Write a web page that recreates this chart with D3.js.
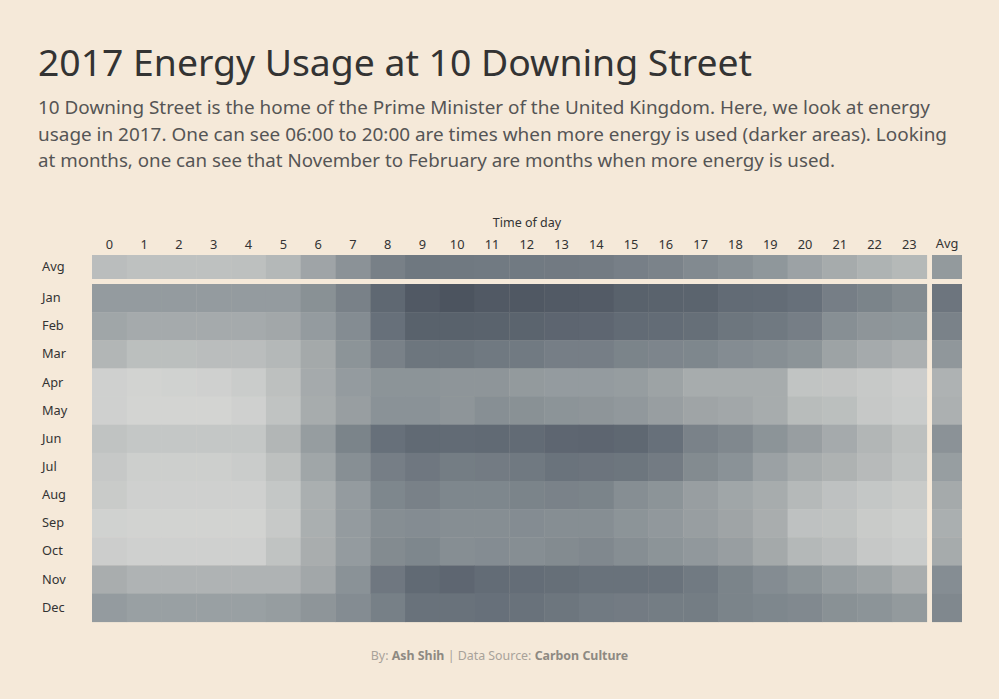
<!DOCTYPE html>
<html>
<head>
<meta charset="utf-8">
<script src="https://cdn.jsdelivr.net/npm/d3@7"></script>
<style>
  body { margin: 0; background: #f5e9d9; }
  svg { display: block; }
  text { font-family: "Noto Sans", sans-serif; }
</style>
</head>
<body>
<script>
var width = 999,
    height = 699;

var hours = d3.range(24).map(String);
var months = ["Jan","Feb","Mar","Apr","May","Jun","Jul","Aug","Sep","Oct","Nov","Dec"];

// relative energy use per month, one value per hour 0..23
var jan = [42,42,42,42,42,42,49,60,79,92,96,92,93,91,90,84,83,82,76,75,72,62,58,53];
var feb = [35,32,32,32,32,34,42,52,72,84,84,83,82,81,80,76,75,73,68,66,62,50,46,45];
var mar = [24,18,18,19,19,23,33,47,60,68,68,66,65,62,62,58,57,56,52,50,47,37,32,28];
var apr = [5,3,4,5,8,17,32,42,47,47,46,46,43,42,42,41,37,31,31,31,14,13,10,7];
var may = [5,2,2,2,5,15,31,40,48,48,46,50,49,47,46,44,40,36,34,31,20,18,11,8];
var jun = [15,12,12,12,12,24,41,58,72,77,76,77,76,80,81,79,72,59,55,47,40,32,24,17];
var jul = [11,6,6,6,8,17,35,50,62,67,63,64,66,70,69,68,64,53,48,38,31,27,21,15];
var aug = [9,5,5,5,5,12,29,42,56,60,56,56,58,59,58,51,47,40,35,31,22,16,12,9];
var sep = [4,3,3,3,3,10,29,42,51,52,51,51,52,51,51,47,44,40,36,30,16,15,9,6];
var oct = [7,5,5,5,5,15,30,42,53,56,51,52,51,53,55,51,47,44,40,33,23,19,11,8];
var nov = [30,26,26,26,26,26,34,48,67,77,80,75,74,73,71,71,70,65,58,52,47,41,37,30];
var dec = [42,39,39,39,39,41,46,52,61,71,71,72,71,68,65,64,63,63,58,56,54,49,47,43];

var usage = [jan,feb,mar,apr,may,jun,jul,aug,sep,oct,nov,dec];

var cells = [];
usage.forEach(function(row, m){
  row.forEach(function(v, h){
    cells.push({month: months[m], hour: hours[h], value: v});
  });
});

var hourAvg = hours.map(function(h, i){
  return {hour: h, value: d3.mean(usage, function(r){ return r[i]; })};
});
var monthAvg = months.map(function(m, i){
  return {month: m, value: d3.mean(usage[i])};
});

var svg = d3.select("body").append("svg")
            .attr("width", width)
            .attr("height", height)

svg.append("rect").attr("width", width).attr("height", height).attr("fill", "#f5e9d9");

var x = d3.scaleBand().domain(hours).range([92, 926.7]);
var y = d3.scaleBand().domain(months).range([284, 621.7]);

var color = d3.scaleLinear()
              .domain([0, 25, 50, 75, 100])
              .range(["#d6d7d5", "#b1b5b5", "#878f94", "#636c76", "#48505b"])
              .clamp(true);

// title + subtitle
svg.append("text")
   .attr("x", 38).attr("y", 76)
   .attr("font-size", 36)
   .attr("fill", "#333")
   .attr("textLength", 714)
   .attr("lengthAdjust", "spacingAndGlyphs")
   .text("2017 Energy Usage at 10 Downing Street");

var sub = [
  "10 Downing Street is the home of the Prime Minister of the United Kingdom. Here, we look at energy",
  "usage in 2017. One can see 06:00 to 20:00 are times when more energy is used (darker areas). Looking",
  "at months, one can see that November to February are months when more energy is used."
];
var subWidth = [892, 909, 797];
svg.selectAll(".sub")
   .data(sub)
   .enter()
   .append("text")
   .attr("class", "sub")
   .attr("x", 38)
   .attr("y", function(d, i){ return 114 + i * 26.5; })
   .attr("font-size", 18.9)
   .attr("fill", "#555")
   .attr("textLength", function(d, i){ return subWidth[i]; })
   .attr("lengthAdjust", "spacingAndGlyphs")
   .text(function(d){ return d; });

// axis labels
svg.append("text")
   .attr("x", 527).attr("y", 227)
   .attr("text-anchor", "middle")
   .attr("font-size", 12.5)
   .attr("fill", "#333")
   .text("Time of day");

var xAxis = svg.append("g")
               .attr("transform", "translate(0,249)")
               .call(d3.axisTop(x).tickSize(0).tickPadding(0));
xAxis.select(".domain").remove();
xAxis.selectAll("text")
     .attr("font-size", 12.8)
     .attr("fill", "#333")
     .attr("font-family", "Noto Sans, sans-serif");

svg.append("text")
   .attr("x", 947).attr("y", 248)
   .attr("text-anchor", "middle")
   .attr("font-size", 12.8)
   .attr("fill", "#333")
   .text("Avg");

var yAxis = svg.append("g")
               .attr("transform", "translate(42,0)")
               .call(d3.axisLeft(y).tickSize(0).tickPadding(0));
yAxis.select(".domain").remove();
yAxis.selectAll("text")
     .attr("text-anchor", "start")
     .attr("font-size", 12.8)
     .attr("fill", "#333")
     .attr("font-family", "Noto Sans, sans-serif");

svg.append("text")
   .attr("x", 42).attr("y", 267)
   .attr("dy", "0.32em")
   .attr("font-size", 12.8)
   .attr("fill", "#333")
   .text("Avg");

// main grid
svg.append("g")
   .selectAll("rect")
   .data(cells)
   .enter()
   .append("rect")
   .attr("x", function(d){ return x(d.hour); })
   .attr("y", function(d){ return y(d.month); })
   .attr("width", x.bandwidth() + 0.4)
   .attr("height", y.bandwidth() + 0.4)
   .attr("fill", function(d){ return color(d.value); });

// avg row
svg.append("g")
   .selectAll("rect")
   .data(hourAvg)
   .enter()
   .append("rect")
   .attr("x", function(d){ return x(d.hour); })
   .attr("y", 255)
   .attr("width", x.bandwidth() + 0.4)
   .attr("height", 24)
   .attr("fill", function(d){ return color(d.value); });

// avg column
svg.append("g")
   .selectAll("rect")
   .data(monthAvg)
   .enter()
   .append("rect")
   .attr("x", 932)
   .attr("y", function(d){ return y(d.month); })
   .attr("width", 30)
   .attr("height", y.bandwidth() + 0.4)
   .attr("fill", function(d){ return color(d.value); });

svg.append("rect")
   .attr("x", 932).attr("y", 255)
   .attr("width", 30).attr("height", 24)
   .attr("fill", color(d3.mean(monthAvg, function(d){ return d.value; })));

// footer
var foot = svg.append("text")
              .attr("x", 499.5).attr("y", 660)
              .attr("text-anchor", "middle")
              .attr("font-size", 12.4)
              .attr("fill", "#a8a29a");
foot.append("tspan").text("By: ");
foot.append("tspan").attr("fill", "#8e8982").attr("font-weight", "bold").text("Ash Shih");
foot.append("tspan").text(" | Data Source: ");
foot.append("tspan").attr("fill", "#8e8982").attr("font-weight", "bold").text("Carbon Culture");
</script>
</body>
</html>
